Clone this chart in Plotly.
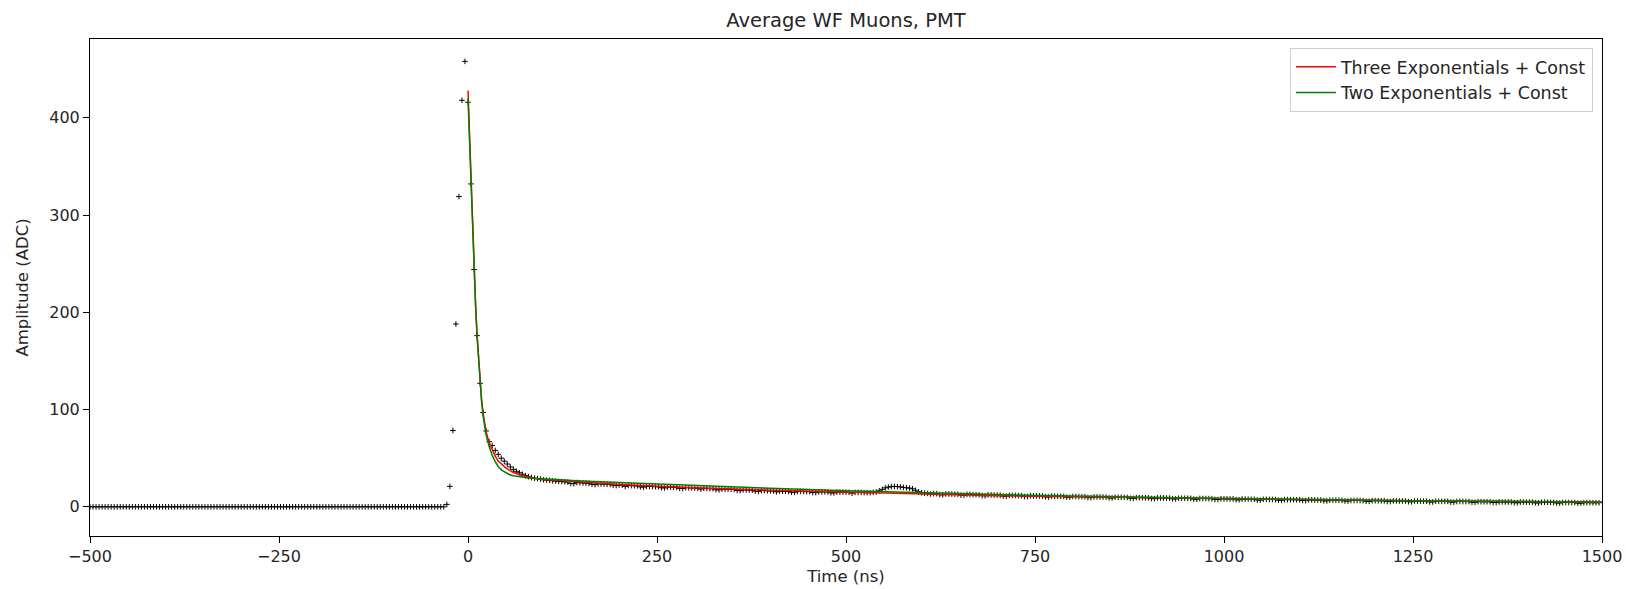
import plotly.graph_objects as go

# --- Averaged waveform (4 ns sampling, -500 .. 1496 ns) ---
time_ns = list(range(-500, 1500, 4))

wf_pre = [
    0, 0, 0, 0, 0, 0, 0, 0, 0, 0, 0, 0, 0, 0, 0, 0, 0, 0, 0, 0, 0, 0, 0, 0, 0,
    0, 0, 0, 0, 0, 0, 0, 0, 0, 0, 0, 0, 0, 0, 0, 0, 0, 0, 0, 0, 0, 0, 0, 0, 0,
    0, 0, 0, 0, 0, 0, 0, 0, 0, 0, 0, 0, 0, 0, 0, 0, 0, 0, 0, 0, 0, 0, 0, 0, 0,
    0, 0, 0, 0, 0, 0, 0, 0, 0, 0, 0, 0, 0, 0, 0, 0, 0, 0, 0, 0, 0, 0, 0, 0, 0,
    0, 0, 0, 0, 0, 0, 0, 0, 0, 0, 0, 0, 0, 0, 0, 0, 0, 0, 2.5, 21, 78.5, 188, 319, 418, 458,
]
wf_post = [
    416, 332, 244, 176, 127, 97, 78, 67, 63, 58, 54, 50, 47, 44, 41, 38.5, 36.5, 35, 33.5, 32, 31, 30, 29.5, 29, 28.5,
    27.8, 27.5, 27.2, 26.8, 26.5, 26.2, 26, 25.7, 25.5, 24, 23.8, 25, 24.8, 24.6, 24.4, 24.2, 23.2, 22.8, 23.8, 23.5, 23.4, 23.2, 23, 22.2, 21.8,
    22.4, 22.2, 21, 22, 21.8, 21.7, 21.5, 20.5, 20.3, 21.2, 21, 20.9, 20.7, 20.6, 19.6, 19.4, 20.4, 20.3, 20.1, 20, 19, 18.8, 19.8, 19.6, 19.5,
    19.4, 19.2, 18.2, 19, 18.9, 18.7, 18.6, 17.6, 17.4, 18.3, 18.2, 18, 17.9, 17.8, 16.8, 16.6, 17.5, 17.4, 17.2, 17.1, 16.1, 15.9, 16.8, 16.7, 16.5,
    16.4, 16.3, 15.4, 16.2, 16.1, 16, 15.9, 15, 14.9, 15.8, 15.8, 15.7, 15.6, 15.6, 14.7, 14.6, 15.5, 15.4, 15.4, 15.3, 14.4, 14.3, 15.2, 15.1, 15.1,
    15, 14.9, 14, 14.8, 14.8, 14.7, 14.6, 14.6, 14.5, 14.9, 15.3, 16.5, 18, 19.5, 20.3, 20.8, 21, 20.8, 20.5, 20, 19.6, 19.2, 18.5, 17, 15.5,
    14.5, 14, 13.8, 13.2, 13.6, 13.5, 12.5, 12.3, 13.3, 13.2, 13.1, 13, 12.9, 12, 11.8, 12.8, 12.7, 12.6, 12.5, 12.4, 11.5, 11.3, 12.3, 12.2, 12.1,
    12, 11.9, 11, 10.9, 11.8, 11.7, 11.7, 11.6, 11.5, 10.6, 10.5, 11.4, 11.3, 11.3, 11.2, 11.1, 10.2, 10.1, 11, 10.9, 10.9, 10.8, 10.7, 9.9, 9.8,
    10.6, 10.6, 10.5, 10.4, 10.4, 9.5, 9.4, 10.2, 10.2, 10.1, 10, 10, 9.2, 9.1, 9.9, 9.8, 9.8, 9.7, 9.6, 8.8, 8.7, 9.5, 9.5, 9.4, 9.3,
    9.3, 8.5, 8.4, 9.2, 9.1, 9.1, 9, 9, 8.2, 8.1, 8.9, 8.8, 8.8, 8.7, 8.7, 7.9, 7.8, 8.6, 8.5, 8.5, 8.4, 8.4, 7.6, 7.5, 8.3,
    8.2, 8.2, 8.1, 8.1, 7.3, 7.2, 8, 7.9, 7.9, 7.8, 7.8, 7, 6.9, 7.7, 7.7, 7.6, 7.6, 7.5, 6.8, 6.7, 7.4, 7.4, 7.3, 7.3, 7.2,
    7.2, 6.5, 6.4, 7.1, 7.1, 7, 7, 6.9, 6.2, 6.1, 6.8, 6.8, 6.8, 6.7, 6.7, 6, 5.9, 6.6, 6.5, 6.5, 6.5, 6.4, 5.7, 5.6, 6.3,
    6.3, 6.3, 6.2, 6.2, 5.5, 5.4, 6.1, 6.1, 6, 6, 6, 5.3, 5.2, 5.9, 5.9, 5.8, 5.8, 5.8, 5.1, 5, 5.7, 5.7, 5.6, 5.6, 5.6,
    4.9, 4.8, 5.5, 5.5, 5.4, 5.4, 5.4, 4.7, 4.6, 5.3, 5.3, 5.2, 5.2, 5.2, 4.5, 4.4, 5.1, 5.1, 5, 5, 5, 4.3, 4.2, 4.9, 4.9,
    4.8, 4.8, 4.8, 4.1, 4, 4.7, 4.7, 4.7, 4.6, 4.6, 4, 3.9, 4.5, 4.5, 4.5, 4.4, 4.4, 3.8, 3.7, 4.3, 4.3, 4.3, 4.2, 4.2, 4.2,
]
amplitude = wf_pre + wf_post
assert len(amplitude) == len(time_ns)

# --- Fit curves ---
fit_t = [0, 2, 4, 6, 8, 10, 12, 14, 16, 18, 20, 24, 28, 32, 36, 40, 45, 50, 55, 60,
         70, 80, 90, 100, 125, 150, 200, 250, 300, 400, 500, 600, 700, 800, 1000, 1250, 1500]
fit_three = [428, 380, 332, 285, 244, 208, 176, 150, 127, 110, 96, 77, 66, 58, 52, 47, 43, 40, 37.5, 35.5,
             32.5, 30.5, 29, 28, 26.5, 25.5, 23, 21, 19.5, 17, 15, 13, 11.5, 10.3, 8.3, 6.3, 5]
fit_two = [420, 375, 330, 285, 244, 208, 176, 149, 126, 108, 93, 74, 62, 53, 46.5, 41.5, 37.5, 35, 33, 32,
           30.5, 29.6, 29, 28.5, 27.5, 26.6, 24.9, 23.3, 21.8, 19, 16.5, 14.4, 12.6, 11, 8.5, 6.3, 4.8]

x_ticks = [-500, -250, 0, 250, 500, 750, 1000, 1250, 1500]
y_ticks = [0, 100, 200, 300, 400]

FONT = "DejaVu Sans"
TXT = "#262626"

fig = go.Figure()
fig.add_trace(go.Scatter(
    x=time_ns, y=amplitude, mode="markers", showlegend=False,
    marker=dict(symbol="cross-thin", size=4, color="black", line=dict(color="black", width=1)),
))
fig.add_trace(go.Scatter(x=fit_t, y=fit_three, mode="lines", name="Three Exponentials + Const",
                         line=dict(color="#ff0000", width=1.5)))
fig.add_trace(go.Scatter(x=fit_t, y=fit_two, mode="lines", name="Two Exponentials + Const",
                         line=dict(color="#008000", width=1.5)))

axis_style = dict(showline=True, linecolor="black", linewidth=1, mirror=True, showgrid=False,
                  zeroline=False, ticks="outside", ticklen=6, tickcolor="black", automargin=False,
                  tickfont=dict(family=FONT, size=16, color=TXT))

fig.update_layout(
    width=1626, height=589,
    margin=dict(l=90, r=24, t=39, b=53),
    paper_bgcolor="white", plot_bgcolor="white",
    title=dict(text="Average WF Muons, PMT", x=0.5, xanchor="center", xref="paper",
               yref="container", y=1 - 20 / 589, yanchor="middle",
               font=dict(family=FONT, size=19.5, color=TXT)),
    xaxis=dict(range=[-500, 1500], tickvals=x_ticks,
               title=dict(text="Time (ns)", font=dict(family=FONT, size=16.5, color=TXT), standoff=5),
               **axis_style),
    yaxis=dict(range=[-30, 481], tickvals=y_ticks,
               title=dict(text="Amplitude (ADC)", font=dict(family=FONT, size=16.5, color=TXT), standoff=16),
               **axis_style),
    legend=dict(x=0.994, y=0.982, xanchor="right", yanchor="top", bgcolor="white",
                bordercolor="#d0d0d0", borderwidth=1, font=dict(family=FONT, size=17.5, color=TXT),
                tracegroupgap=0, itemwidth=40),
)

# drop the default page margin so the figure sits at the window's top-left corner
fig.write_html("out.html", config={"displayModeBar": False},
               post_script="document.body.style.margin = '0';")
